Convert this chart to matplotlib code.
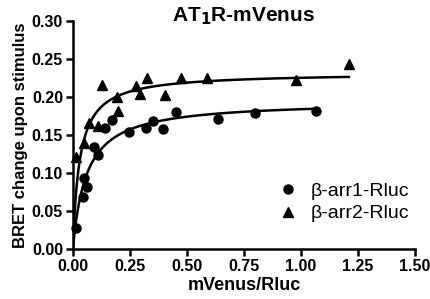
import numpy as np
import matplotlib
matplotlib.use("Agg")
import matplotlib.pyplot as plt

# beta-arrestin1 (circles)
arr1_x = [0.016, 0.045, 0.060, 0.050, 0.091, 0.110, 0.140, 0.172, 0.247, 0.320,
          0.351, 0.396, 0.452, 0.635, 0.798, 1.066]
arr1_y = [0.028, 0.068, 0.081, 0.093, 0.134, 0.124, 0.159, 0.170, 0.154, 0.159,
          0.169, 0.158, 0.180, 0.171, 0.179, 0.182]

# beta-arrestin2 (triangles)
arr2_x = [0.016, 0.048, 0.072, 0.110, 0.130, 0.192, 0.197, 0.279, 0.295, 0.323,
          0.404, 0.474, 0.586, 0.978, 1.210]
arr2_y = [0.121, 0.140, 0.166, 0.162, 0.216, 0.200, 0.182, 0.214, 0.204, 0.225,
          0.203, 0.225, 0.225, 0.222, 0.244]

# one-site hyperbolic fits: Bmax * x / (K + x)
arr1_bmax, arr1_k = 0.195, 0.06
arr2_bmax, arr2_k = 0.232, 0.03

FONT = "Liberation Sans"


def hyperbola(x, bmax, k):
    return bmax * x / (k + x)


def main():
    fig = plt.figure(figsize=(4.31, 2.99), dpi=100)
    ax = fig.add_axes([0.169, 0.167, 0.794, 0.763])

    xs1 = np.linspace(0, max(arr1_x), 300)
    xs2 = np.linspace(0, max(arr2_x), 300)
    ax.plot(xs1, hyperbola(xs1, arr1_bmax, arr1_k), color="black", lw=1.8)
    ax.plot(xs2, hyperbola(xs2, arr2_bmax, arr2_k), color="black", lw=1.8)

    ax.plot(arr1_x, arr1_y, "o", color="black", ms=6.5, label="β-arr1-Rluc", clip_on=False)
    ax.plot(arr2_x, arr2_y, "^", color="black", ms=7, label="β-arr2-Rluc", clip_on=False)

    ax.set_xlim(0, 1.5)
    ax.set_ylim(0, 0.30)
    ax.set_xticks(np.arange(0, 1.51, 0.25))
    ax.set_yticks(np.arange(0, 0.301, 0.05))
    ax.set_xticklabels([f"{v:.2f}" for v in np.arange(0, 1.51, 0.25)])
    ax.set_yticklabels([f"{v:.2f}" for v in np.arange(0, 0.301, 0.05)])

    for side in ["top", "right"]:
        ax.spines[side].set_visible(False)
    for side in ["left", "bottom"]:
        ax.spines[side].set_linewidth(1.8)
    ax.tick_params(width=1.8, length=5, direction="out", pad=2)
    for lab in ax.get_xticklabels() + ax.get_yticklabels():
        lab.set_fontfamily(FONT)
        lab.set_fontweight("bold")
        lab.set_fontsize(11.5)

    ax.set_xlabel("mVenus/Rluc", fontfamily=FONT, fontweight="bold", fontsize=13, labelpad=2)
    ax.set_ylabel("BRET change upon stimulus", fontfamily=FONT, fontweight="bold",
                  fontsize=12, labelpad=3)
    ax.set_title(r"AT$_\mathbf{1}$R-mVenus", fontfamily=FONT, fontweight="bold",
                 fontsize=15, y=1.0, pad=0)

    ax.legend(loc="lower right", bbox_to_anchor=(1.035, 0.04), frameon=False,
              handlelength=1.0, handletextpad=0.7, labelspacing=0.25,
              prop={"family": FONT, "size": 14})

    fig.savefig("out.png", dpi=100)
    plt.close(fig)


if __name__ == "__main__":
    main()
